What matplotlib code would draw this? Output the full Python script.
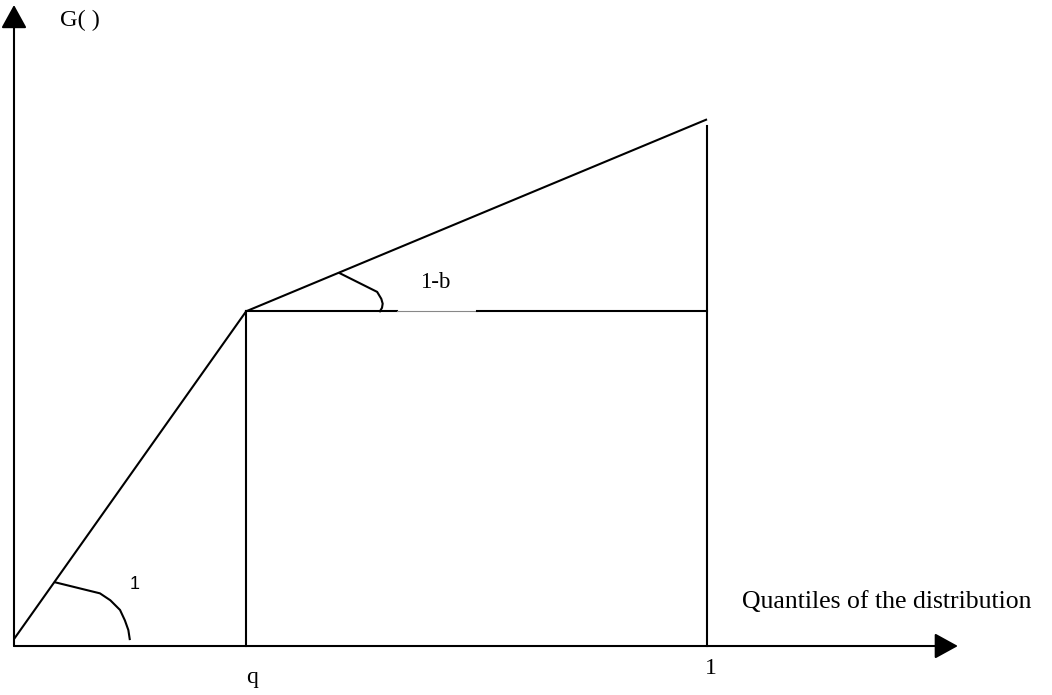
import matplotlib.pyplot as plt
import numpy as np

# piecewise-linear G() against quantiles of the distribution
q = 0.335            # kink quantile
knot_x = [0.0, q, 1.0]
knot_y = [0.01, 0.483, 0.760]
right_top = 0.750    # vertical line at x=1 stops a bit below the curve
gap = [0.553, 0.668] # the horizontal line at G(q) turns thin grey here

# hand drawn angle marks
low_arc_x = [0.059, 0.124, 0.139, 0.153, 0.160, 0.165, 0.167]
low_arc_y = [0.092, 0.076, 0.066, 0.052, 0.037, 0.023, 0.010]
up_arc_x = [0.470, 0.524, 0.530, 0.532, 0.531, 0.528]
up_arc_y = [0.538, 0.511, 0.501, 0.494, 0.488, 0.483]

x_tick_labels = ["q", "1"]

plt.rcParams['font.family'] = ['Liberation Serif', 'DejaVu Serif']

fig = plt.figure(figsize=(10.52, 6.95), dpi=100)
ax = fig.add_axes([0, 0, 1, 1])
ax.set_xlim(-0.0202, 1.4978)
ax.set_ylim(-0.0707, 0.9322)
ax.axis('off')

lw = 1.5
# axes with arrow heads
arr = dict(arrowstyle='-|>,head_length=0.4,head_width=0.22', mutation_scale=36,
           lw=lw, color='black', shrinkA=0, shrinkB=0)
ax.annotate("", xy=(1.362, 0), xytext=(0, 0), arrowprops=arr)
ax.annotate("", xy=(0, 0.925), xytext=(0, 0), arrowprops=arr)

# the curve
ax.plot(knot_x, knot_y, color='black', lw=lw, solid_capstyle='butt')

# verticals
ax.plot([q, q], [0, knot_y[1]], color='black', lw=lw)
ax.plot([1, 1], [0, right_top], color='black', lw=lw)

# horizontal at G(q) with the thin grey gap
ax.plot([q, gap[0]], [knot_y[1], knot_y[1]], color='black', lw=lw)
ax.plot(gap, [knot_y[1], knot_y[1]], color='#888888', lw=0.8)
ax.plot([gap[1], 1], [knot_y[1], knot_y[1]], color='black', lw=lw)

# angle marks
ax.plot(low_arc_x, low_arc_y, color='black', lw=lw)
ax.plot(up_arc_x, up_arc_y, color='black', lw=lw)

# labels
ax.text(0.0664, 0.902, "G( )", fontsize=17.5, ha='left', va='center')
ax.text(0.586, 0.525, "1-b", fontsize=16.5, ha='left', va='center')
ax.text(0.167, 0.089, "1", fontsize=13, ha='left', va='center',
        family=['Liberation Sans', 'DejaVu Sans'])
ax.text(q + 0.008, -0.046, x_tick_labels[0], fontsize=17, ha='center', va='center')
ax.text(0.997, -0.032, x_tick_labels[1], fontsize=17, ha='left', va='center')
ax.text(1.050, 0.0548, "Quantiles of the distribution", fontsize=18.5,
        ha='left', va='baseline')

fig.savefig("out.png", dpi=100)
